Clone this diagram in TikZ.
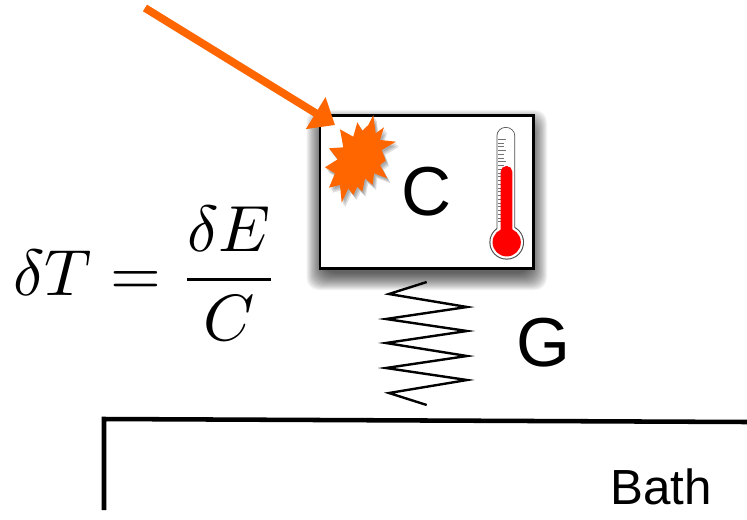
\documentclass[tikz,border=0pt]{standalone}
\usepackage{amsmath,amssymb}
\usepackage{fontspec}
\setsansfont{Liberation Sans}
\usetikzlibrary{arrows.meta,positioning}

\newcommand{\burstpath}{(373.3,115) -- (375.7,133.3) -- (384,127.3) -- (380,140) -- (396,141.7) -- (381.7,150) -- (385.7,160.7) -- (380,165) -- (387.3,178.3) -- (374,173.3) -- (372.7,185) -- (365,178.3) -- (362.3,191.7) -- (357.3,186.7) -- (353.3,195) -- (348.3,188.3) -- (341.7,202.7) -- (340,185) -- (329,187.7) -- (335,173.3) -- (325,167.3) -- (337.7,159.3) -- (329,148.3) -- (343.3,147.3) -- (340,129.3) -- (353.3,136.7) -- (357.3,122.3) -- (362.3,130.7) -- (368.3,125) -- cycle}

\begin{document}
\begin{tikzpicture}[
    x=.75pt, y=-.75pt,
    cellbox/.style={draw=black, fill=white, line width=1.9pt, minimum width=160pt, minimum height=115pt, inner sep=0pt, font=\fontsize{52}{52}\sffamily},
    tag/.style={inner sep=0pt, font=\fontsize{52}{52}\sffamily},
    spring/.style={draw=black, line width=1.8pt, line join=miter},
    bathline/.style={draw=black, line width=3.4pt, line join=miter},
    heat/.style={draw=none, fill=orange!80!red},
    pulse/.style={-{Triangle[length=17pt, width=27pt]}, line width=5.8pt, draw=orange!80!red}
]
    \useasboundingbox (0,0) rectangle (747,519);

    % Soft shadow of the box
    \foreach \s in {13,12,...,-4}
        \fill[black, opacity=.05, rounded corners=9pt] (319.5-\s,115+8-\s) rectangle (534+\s,269+8+\s);

    % Calorimeter and formula
    \node[cellbox] (cell) at (426.75,192) {C};
    \node[left=30pt of cell, yshift=-61pt, inner sep=0pt] (formula) {\scalebox{4.9}{$\displaystyle \delta T = \frac{\delta E}{C}$}};

    % Energy burst
    \foreach \d in {5,3.5,2}
        \fill[black, opacity=.12, shift={(\d*.5pt,-\d*.75pt)}] \burstpath;
    \fill[heat] \burstpath;

    % Thermometer
    \coordinate (bulb) at (506.7,242.3);
    \fill[black!70] (bulb) circle (13pt);
    \fill[black!70, rounded corners=6.9pt] (496.5,127) rectangle (515.2,240);
    \fill[white] (bulb) circle (12.2pt);
    \fill[white, rounded corners=6.3pt] (497.3,127.8) rectangle (514.4,240);
    \foreach \t in {0,...,22}
        \draw[black!55, line width=.35pt] (498,139+\t*3.75) -- (503.5,139+\t*3.75);
    \foreach \t in {0,3,...,21}
        \draw[black!55, line width=.35pt] (498,139+\t*3.75) -- (506,139+\t*3.75);
    \fill[red, rounded corners=4.2pt] (500.7,166) rectangle (512.3,240);
    \fill[red] (bulb) circle (10.6pt);

    % Incoming particle
    \coordinate (source) at (145,8);
    \coordinate (hit) at (335,125);
    \draw[pulse, black, opacity=.1, shift={(1.5pt,-3pt)}] (source) -- (hit);
    \draw[pulse] (source) -- (hit);

    % Thermal link and bath
    \coordinate (linktop) at (426.7,282);
    \coordinate (linkend) at (426.7,405);
    \draw[spring] (linktop) -- (389,294) -- (467,307) -- (386,319) -- (467,331) -- (386,343) -- (467,356) -- (386,368) -- (467,380) -- (389,393) -- (linkend);
    \node[tag, right=67pt of linkend, yshift=47pt] (conductance) {G};

    \coordinate (bathtop) at (104,419);
    \draw[bathline] (104,510) -- (bathtop) -- (747,422);
    \node[inner sep=0pt, font=\fontsize{37}{37}\sffamily] (bath) at (661,487) {Bath};
\end{tikzpicture}
\end{document}
